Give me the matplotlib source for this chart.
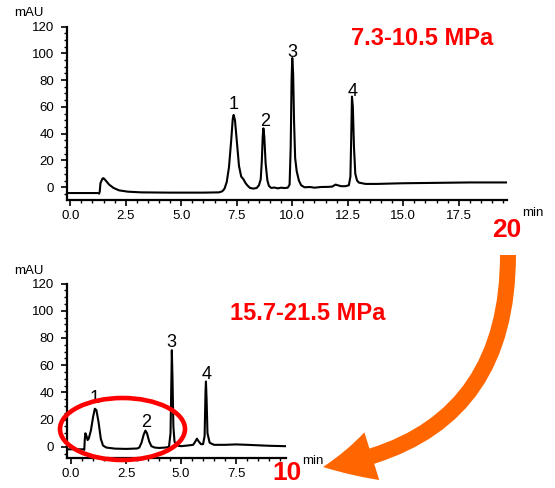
import matplotlib
matplotlib.use("Agg")
import matplotlib.pyplot as plt
from matplotlib.patches import Ellipse, FancyArrowPatch
from matplotlib.path import Path
from matplotlib.ticker import MultipleLocator

plt.rcParams['font.family'] = ['Liberation Sans', 'DejaVu Sans']

# ---- data: top chromatogram (7.3-10.5 MPa) ----
top_t = [-0.16, 1.25, 1.3, 1.33, 1.36, 1.45, 1.5, 1.6, 1.75, 1.95, 2.2, 2.6, 3.2, 4.5, 6.0,
         6.7, 6.85, 6.95, 7.05, 7.15, 7.25, 7.32, 7.36, 7.42, 7.5, 7.6, 7.7, 7.8, 7.9, 8.0,
         8.1, 8.25, 8.4, 8.5, 8.58, 8.63, 8.67, 8.7, 8.74, 8.8, 8.88, 8.95, 9.05, 9.2, 9.35,
         9.5, 9.65, 9.8, 9.88, 9.93, 9.97, 10.0, 10.04, 10.08, 10.13, 10.2, 10.3, 10.4, 10.55,
         10.8, 11.0, 11.3, 11.6, 11.8, 11.95, 12.05, 12.2, 12.4, 12.55, 12.62, 12.66, 12.69,
         12.73, 12.78, 12.84, 12.92, 13.0, 13.3, 13.8, 14.5, 15.0, 16.0, 17.0, 18.0, 19.66]
top_y = [-4.3, -4.3, -4.8, -3, 3, 6.5, 6.8, 5, 2, -0.5, -2.3, -3.3, -3.8, -4.0, -4.0,
         -3.8, -3, -1, 4, 15, 35, 51, 54, 50, 35, 16, 8, 6, 3, 1,
         -0.5, -1, -0.5, 1.5, 6, 20, 38, 44, 38, 18, 5, 1, -0.5, -0.2, -0.8,
         -0.3, -0.6, -0.3, 2, 30, 80, 96.5, 85, 50, 22, 12, 5, 1.5, 0,
         0.2, -0.3, 0.2, 0.3, 0.5, 2, 1.5, 0.8, 0.8, 1.5, 8, 40, 67.7,
         60, 30, 10, 5, 3.5, 2.5, 2.5, 2.8, 3, 3.2, 3.4, 3.6, 3.6]
top_peak_labels = ['1', '2', '3', '4']
top_peak_t = [7.34, 8.77, 10.0, 12.7]
top_peak_y = [61.5, 49, 100.6, 71.4]

# ---- data: bottom chromatogram (15.7-21.5 MPa) ----
bot_t = [-0.2, 0.55, 0.6, 0.62, 0.65, 0.7, 0.75, 0.8, 0.9, 1.0, 1.08, 1.15, 1.25, 1.35, 1.45,
         1.6, 2.0, 2.5, 3.0, 3.1, 3.2, 3.3, 3.38, 3.45, 3.55, 3.65, 3.8, 4.0, 4.3, 4.45,
         4.52, 4.56, 4.58, 4.61, 4.65, 4.7, 4.8, 5.0, 5.3, 5.55, 5.65, 5.72, 5.8, 5.9, 6.0,
         6.07, 6.11, 6.13, 6.16, 6.2, 6.3, 6.5, 7.0, 7.5, 8.0, 9.0, 9.75]
bot_y = [-1.8, -1.8, -2.2, 5, 10, 8, 5, 6, 12, 22, 28, 27, 18, 6, 1,
         -0.5, -1.3, -1.5, -1.2, -0.5, 3, 9, 12, 10, 4, 0.5, -0.5, -0.8, -0.5, 0,
         10, 50, 71, 50, 15, 4, 1, 0.5, 1, 1.5, 4, 6, 4, 2, 2,
         8, 40, 48, 35, 10, 3, 1.5, 1.5, 1.8, 1.5, 0.8, 0.5]
bot_peak_labels = ['1', '2', '3', '4']
bot_peak_t = [1.09, 3.4, 4.58, 6.17]
bot_peak_y = [35.7, 17.7, 76.7, 53.4]

y_ticks = [0, 20, 40, 60, 80, 100, 120]
top_x_ticks = [0.0, 2.5, 5.0, 7.5, 10.0, 12.5, 15.0, 17.5]
bot_x_ticks = [0.0, 2.5, 5.0, 7.5]

W, H = 555, 488
fig = plt.figure(figsize=(W / 100, H / 100), dpi=100)


def px_axes(x0, y0, x1, y1):
    return fig.add_axes([x0 / W, 1 - y1 / H, (x1 - x0) / W, (y1 - y0) / H])


def style(ax, xlim, ylim, xticks):
    ax.set_xlim(*xlim)
    ax.set_ylim(*ylim)
    for s in ['top', 'right']:
        ax.spines[s].set_visible(False)
    for s in ['left', 'bottom']:
        ax.spines[s].set_linewidth(1.6)
    ax.set_xticks(xticks)
    ax.set_xticklabels([f"{v:.1f}" for v in xticks])
    ax.set_yticks(y_ticks)
    ax.xaxis.set_minor_locator(MultipleLocator(0.5))
    ax.yaxis.set_minor_locator(MultipleLocator(5))
    ax.tick_params(axis='both', which='major', length=4, width=1.2, labelsize=9.5, color='black')
    ax.tick_params(axis='both', which='minor', length=2.5, width=1.0)
    ax.tick_params(axis='x', pad=3)
    ax.tick_params(axis='y', pad=5)
    ax.patch.set_alpha(0)


ax1 = px_axes(66.7, 26.5, 506.7, 200)
ax1.plot(top_t, top_y, color='black', lw=1.5)
style(ax1, (-0.16, 19.66), (-9.5, 120), top_x_ticks)
for lab, t, y in zip(top_peak_labels, top_peak_t, top_peak_y):
    ax1.text(t, y, lab, ha='center', va='center', fontsize=13)

ax2 = px_axes(66.7, 283.5, 286, 458.3)
ax2.plot(bot_t, bot_y, color='black', lw=1.5)
style(ax2, (-0.2, 9.77), (-8.4, 120), bot_x_ticks)
for lab, t, y in zip(bot_peak_labels, bot_peak_t, bot_peak_y):
    ax2.text(t, y, lab, ha='center', va='center', fontsize=13)

# overlay in pixel coordinates
ov = fig.add_axes([0, 0, 1, 1], zorder=10)
ov.set_xlim(0, W)
ov.set_ylim(H, 0)
ov.axis('off')
ov.patch.set_alpha(0)

red = '#FF0000'
ov.text(29, 13, 'mAU', ha='center', va='center', fontsize=9.5)
ov.text(29, 271, 'mAU', ha='center', va='center', fontsize=9.5)
ov.text(533, 212.5, 'min', ha='center', va='center', fontsize=9.5)
ov.text(313, 461, 'min', ha='center', va='center', fontsize=9.5)
ov.text(421.7, 38.5, '7.3-10.5 MPa', ha='center', va='center', fontsize=17,
        fontweight='bold', color=red)
ov.text(307.5, 314, '15.7-21.5 MPa', ha='center', va='center', fontsize=17,
        fontweight='bold', color=red)
ov.text(507, 230, '20', ha='center', va='center', fontsize=19, fontweight='bold', color=red)
ov.text(286.5, 473, '10', ha='center', va='center', fontsize=19, fontweight='bold', color=red)

ov.add_patch(Ellipse((122.5, 429), 125, 62, fill=False, edgecolor=red, lw=3.3))

arrow_path = Path([(508, 255), (508, 440), (323, 467)],
                  [Path.MOVETO, Path.CURVE3, Path.CURVE3])
ov.add_patch(FancyArrowPatch(path=arrow_path,
                             arrowstyle='simple,head_length=36,head_width=36,tail_width=11.5',
                             mutation_scale=1, color='#FF6600', lw=0))

fig.savefig('out.png', dpi=100)
